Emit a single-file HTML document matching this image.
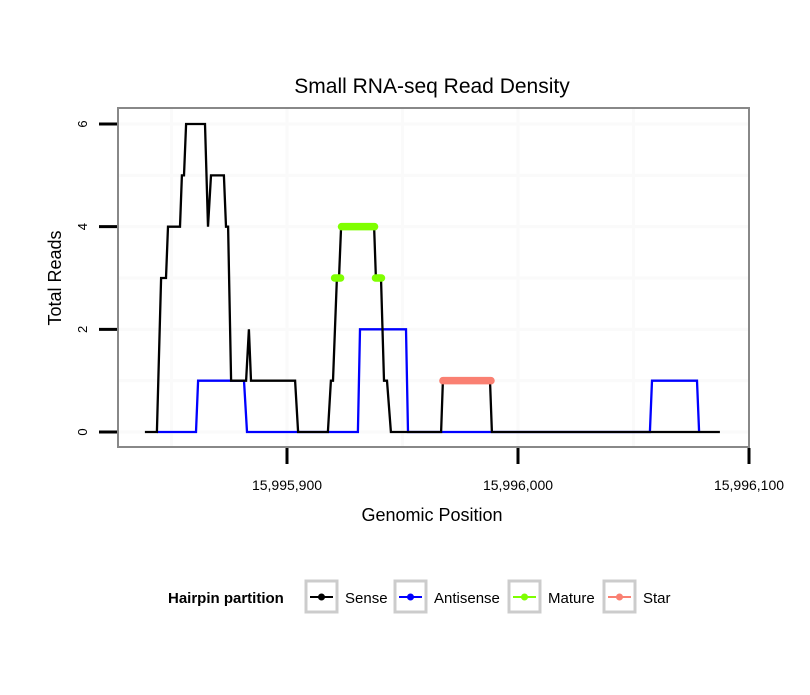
<!DOCTYPE html>
<html><head><meta charset="utf-8"><style>
body{margin:0;background:#fff;font-family:"Liberation Sans",sans-serif}
</style></head><body>
<svg id="c" width="810" height="690" xmlns="http://www.w3.org/2000/svg" font-family="Liberation Sans, sans-serif">
<rect width="810" height="690" fill="#fff"/>
<text x="432" y="93" font-size="21" text-anchor="middle">Small RNA-seq Read Density</text>
<g id="grid"></g>
<g id="series"></g>
<rect x="118" y="108" width="631" height="339" fill="none" stroke="#888" stroke-width="2"/>
<g id="axes"></g>
<text x="432" y="521" font-size="18" text-anchor="middle">Genomic Position</text>
<text transform="translate(61,278) rotate(-90)" font-size="18" text-anchor="middle">Total Reads</text>
<g font-size="15">
<text x="168" y="603" font-weight="bold">Hairpin partition</text>
<g><rect x="306" y="581" width="31" height="31" fill="#fff" stroke="#ccc" stroke-width="3"/><line x1="310" y1="597" x2="333" y2="597" stroke="#000" stroke-width="2"/><circle cx="321.5" cy="597" r="3.5" fill="#000"/><text x="345" y="603">Sense</text></g>
<g><rect x="395" y="581" width="31" height="31" fill="#fff" stroke="#ccc" stroke-width="3"/><line x1="399" y1="597" x2="422" y2="597" stroke="#00f" stroke-width="2"/><circle cx="410.5" cy="597" r="3.5" fill="#00f"/><text x="434" y="603">Antisense</text></g>
<g><rect x="509" y="581" width="31" height="31" fill="#fff" stroke="#ccc" stroke-width="3"/><line x1="513" y1="597" x2="536" y2="597" stroke="#7fff00" stroke-width="2"/><circle cx="524.5" cy="597" r="3.5" fill="#7fff00"/><text x="548" y="603">Mature</text></g>
<g><rect x="604" y="581" width="31" height="31" fill="#fff" stroke="#ccc" stroke-width="3"/><line x1="608" y1="597" x2="631" y2="597" stroke="#fa8072" stroke-width="2"/><circle cx="619.5" cy="597" r="3.5" fill="#fa8072"/><text x="643" y="603">Star</text></g>
</g>
</svg>
<script>
const base = 15995900;
const senseX = [-61.5,-56.3,-54.5,-52.4,-51.5,-46.3,-45.5,-44.6,-43.7,-35.5,-34.2,-32.9,-27.3,-26.4,-25.5,-24.2,-17.7,-16.5,-15.6,3.5,4.8,17.7,19.0,19.9,21.6,22.5,23.4,37.7,38.5,40.7,42.0,43.3,45.0,66.7,67.5,87.9,88.7,187.4];
const senseY = [0,0,3,3,4,4,5,5,6,6,4,5,5,4,4,1,1,2,1,1,0,0,1,1,3,3,4,4,3,3,1,1,0,0,1,1,0,0];
const antiX = [-56.3,-39.4,-38.5,-18.6,-17.3,30.7,31.6,51.5,52.4,157.1,158.0,177.5,178.4];
const antiY = [0,0,1,1,0,0,2,2,0,0,1,1,0];
const matureSegs = [[20.6,23.2,3],[23.6,37.9,4],[38.3,40.9,3]];
const starSegs = [[67.5,88.3,1]];
const xTicks = [15995900,15996000,15996100];
const xTickLabels = ["15,995,900","15,996,000","15,996,100"];
const yTicks = [0,2,4,6];
const xGrid = [15995850,15995900,15995950,15996000,15996050];
const yGrid = [0,1,2,3,4,5,6];

const X = v => 287 + (v - 15995900) * 2.31;
const Y = v => 432 - v * 51.33;
const NS = "http://www.w3.org/2000/svg";
function mk(tag, attrs, parent){const e=document.createElementNS(NS,tag);for(const k in attrs)e.setAttribute(k,attrs[k]);parent.appendChild(e);return e;}
const grid=document.getElementById('grid'), ser=document.getElementById('series'), ax=document.getElementById('axes');
xGrid.forEach(v=>{const l=mk('line',{x1:X(v),x2:X(v),y1:109,y2:446,stroke:'#fafafa','stroke-width':3},grid);

});
yGrid.forEach(v=>{const l=mk('line',{x1:119,x2:748,y1:Y(v),y2:Y(v),stroke:'#fafafa','stroke-width':3},grid);

});
function path(xs,ys,color,name){
 const d=xs.map((x,i)=>(i?'L':'M')+X(base+x).toFixed(1)+','+Y(ys[i]).toFixed(1)).join(' ');
 const p=mk('path',{d:d,fill:'none',stroke:color,'stroke-width':2.3,'stroke-linejoin':'miter'},ser);
 
 
}
path(antiX,antiY,'#00f','antisense-line');
path(senseX,senseY,'#000','sense-line');
function segs(arr,color,name){arr.forEach(s=>{
 const l=mk('line',{x1:X(base+s[0]),x2:X(base+s[1]),y1:Y(s[2]),y2:Y(s[2]),stroke:color,'stroke-width':7.5,'stroke-linecap':'round'},ser);
 
 
});}
segs(matureSegs,'#7fff00','mature-segment');
segs(starSegs,'#fa8072','star-segment');
xTicks.forEach((v,i)=>{
 const l=mk('line',{x1:X(v),x2:X(v),y1:448,y2:464,stroke:'#000','stroke-width':3},ax);
 
 
 const t=mk('text',{x:X(v),y:490,'font-size':14,'text-anchor':'middle'},ax);t.textContent=xTickLabels[i];
 
 
});
yTicks.forEach(v=>{
 const l=mk('line',{x1:99,x2:117,y1:Y(v),y2:Y(v),stroke:'#000','stroke-width':3},ax);
 
 
 const t=mk('text',{transform:`translate(87,${Y(v)}) rotate(-90)`,'font-size':13,'text-anchor':'middle'},ax);t.textContent=v;
 
 
});
</script>
</body></html>
